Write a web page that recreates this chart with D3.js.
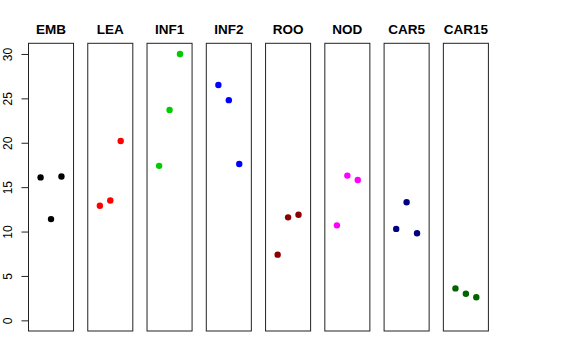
<!DOCTYPE html>
<html>
<head>
<meta charset="utf-8">
<script src="https://cdn.jsdelivr.net/npm/d3@7"></script>
<style>
  body { margin: 0; background: #fff; }
  svg { font-family: "Liberation Sans", Arial, Helvetica, sans-serif; }
</style>
</head>
<body>
<div id="chart"></div>
<script>
// panels, one per tissue
var tissues = ["EMB", "LEA", "INF1", "INF2", "ROO", "NOD", "CAR5", "CAR15"];
var colors = ["#000000", "#ff0000", "#00cd00", "#0000ff", "#8b0000", "#ff00ff", "#000080", "#006400"];

// three replicates per tissue
var emb = [16.1, 11.4, 16.2];
var lea = [12.9, 13.5, 20.2];
var inf1 = [17.4, 23.7, 30.0];
var inf2 = [26.5, 24.8, 17.6];
var roo = [7.4, 11.6, 11.9];
var nod = [10.7, 16.3, 15.8];
var car5 = [10.3, 13.3, 9.8];
var car15 = [3.6, 3.0, 2.6];
var values = [emb, lea, inf1, inf2, roo, nod, car5, car15];

var yTicks = [0, 5, 10, 15, 20, 25, 30];

var W = 576, H = 360;
var svg = d3.select("#chart").append("svg").attr("width", W).attr("height", H);

var panel = d3.scaleBand().domain(tissues).range([28.5, 488.4]).paddingInner(0.24).paddingOuter(0);
var y = d3.scaleLinear().domain([-1.2, 31.2]).range([331, 43.3]);
var xin = d3.scaleLinear().domain([-0.16, 4.16]).range([0, panel.bandwidth()]);

// y axis (R style, rotated labels)
var yAxis = svg.append("g").attr("transform", "translate(" + panel(tissues[0]) + ",0)")
    .call(d3.axisLeft(y).tickValues(yTicks).tickSize(7).tickPadding(4));
yAxis.select(".domain").attr("d", "M0," + y(0) + "V" + y(30)).attr("stroke", "#222");
yAxis.selectAll(".tick line").attr("stroke", "#222");
yAxis.selectAll(".tick text")
    .attr("font-size", 12).attr("fill", "#000")
    .attr("transform", "rotate(-90)")
    .attr("x", 0).attr("y", -16.5)
    .attr("dy", 0)
    .attr("text-anchor", "middle");

var g = svg.selectAll("g.panel").data(tissues).enter().append("g")
    .attr("class", "panel")
    .attr("transform", function (d) { return "translate(" + panel(d) + ",0)"; });

g.append("rect")
    .attr("x", 0).attr("y", 43.3)
    .attr("width", panel.bandwidth()).attr("height", 331 - 43.3)
    .attr("fill", "none").attr("stroke", "#222").attr("stroke-width", 1);

g.append("text")
    .attr("x", panel.bandwidth() / 2).attr("y", 34.3)
    .attr("text-anchor", "middle")
    .attr("font-size", 13.5).attr("font-weight", "bold")
    .text(function (d) { return d; });

g.each(function (d, i) {
    d3.select(this).selectAll("circle").data(values[i]).enter().append("circle")
        .attr("cx", function (v, j) { return xin(j + 1); })
        .attr("cy", function (v) { return y(v); })
        .attr("r", 3.2)
        .attr("fill", colors[i]);
});
</script>
</body>
</html>
